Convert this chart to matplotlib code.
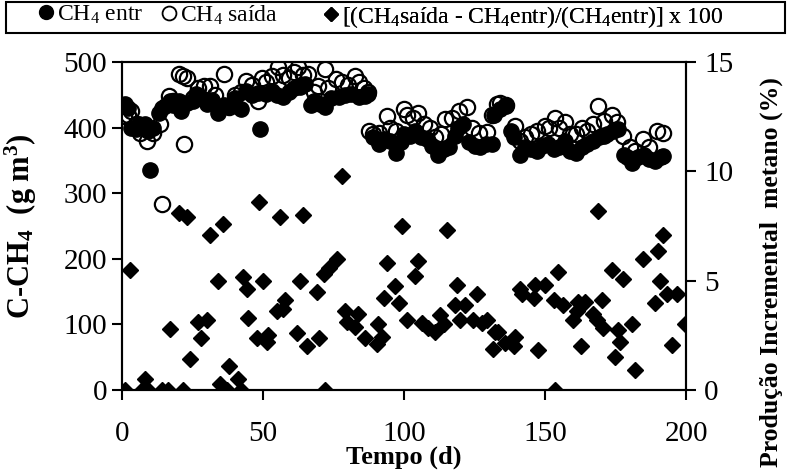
import matplotlib
matplotlib.use("Agg")
import matplotlib.pyplot as plt
from matplotlib.patches import Rectangle
from matplotlib.lines import Line2D

plt.rcParams['font.family'] = ['Liberation Serif', 'DejaVu Serif']
plt.rcParams['mathtext.fontset'] = 'custom'
plt.rcParams['mathtext.rm'] = 'Liberation Serif'
plt.rcParams['mathtext.it'] = 'Liberation Serif:italic'
plt.rcParams['mathtext.bf'] = 'Liberation Serif:bold'

# --- DATA ---
# CH4 entrada (filled circles)
t_entr = [1, 2, 3, 5, 6, 8, 9, 10, 11, 13, 14, 15, 17, 18, 20, 21, 23, 25, 26, 28,
          30, 32, 34, 36, 38, 40, 42, 44, 46, 48, 49, 51, 53, 55, 57, 59, 61, 63, 65, 67,
          68, 70, 72, 74, 77, 79, 81, 84, 86, 87,
          89, 91, 93, 95, 97, 99, 100, 102, 104, 106, 108, 110, 112, 114, 116, 118, 119, 121, 123, 125,
          127, 129, 131, 132, 134, 136, 138, 139, 141, 143, 145, 147, 149, 151, 153, 155, 157, 159, 161, 163,
          165, 167, 169, 171, 172, 174, 176, 178, 179, 181, 183, 185, 187, 189, 191, 192]
ch4_entr = [436, 430, 400, 398, 405, 405, 395, 335, 400, 423, 430, 433, 441, 435, 441, 426, 438, 440, 451, 445,
            436, 442, 423, 435, 433, 445, 428, 456, 450, 453, 398, 452, 456, 450, 446, 455, 461, 462, 466, 435,
            441, 436, 431, 445, 446, 450, 452, 446, 449, 452,
            385, 375, 383, 380, 362, 378, 390, 388, 395, 385, 382, 372, 359, 368, 370, 388, 400, 405, 378, 372,
            370, 375, 375, 420, 428, 433, 395, 385, 359, 370, 368, 365, 372, 375, 368, 370, 380, 365, 362, 370,
            375, 380, 385, 388, 390, 395, 398, 359, 355, 346, 355, 359, 352, 349, 355, 357]

# CH4 saida (open circles)
t_said = [0.5, 2, 3, 5, 6.4, 8.8, 11, 13.5, 14, 16.4, 18, 20, 21.7, 22, 23, 25, 27, 29, 31, 33,
          36, 38, 40, 42, 44, 46, 48, 49.5, 51, 53, 55.4, 57, 59, 61, 62.5, 64, 66, 68, 69.5, 72,
          73, 76, 78, 80, 82.6, 84, 85.6, 87,
          87.5, 89, 91, 93.9, 95, 97, 99.8, 101, 103, 105, 107, 109, 111, 113, 114.5, 117, 119.3, 122.2, 124, 126.4,
          129.3, 131, 132.9, 134, 136, 139.4, 141, 143, 145, 147, 150, 151.5, 153.5, 155, 157, 159, 161, 163, 165, 167,
          168.9, 171, 173.6, 175.4, 177.8, 180, 182, 184.9, 187, 189.6, 192]
ch4_said = [418, 420, 425, 405, 392, 379, 392, 405, 283, 448, 440, 482, 478, 375, 476, 445, 461, 464, 464, 450,
            482, 431, 450, 455, 471, 465, 441, 476, 470, 478, 492, 480, 475, 485, 492, 480, 482, 455, 464, 489,
            461, 474, 470, 465, 479, 470, 461, 455,
            395, 390, 392, 418, 400, 395, 428, 420, 415, 423, 405, 400, 385, 390, 413, 415, 426, 431, 400, 392,
            394, 420, 436, 438, 435, 403, 380, 385, 390, 395, 403, 400, 415, 400, 408, 390, 390, 400, 395, 405,
            433, 410, 420, 408, 387, 370, 365, 382, 370, 395, 392]

# incremental production (%) (diamonds, right axis)
t_inc = [1, 2.8, 7, 8.2, 9.3, 14, 16.3, 17, 20, 21.7, 23, 24, 27, 28, 30, 31, 34, 34.8, 35.8, 37.1,
         38, 41, 42, 43, 44.2, 44.7, 47.8, 48.6, 50, 51.3, 51.8, 54.8, 56, 57.1, 57.8, 62, 62.9, 64, 65.5, 69,
         69.9, 71.4, 72, 73.2, 76.1, 77.9, 79, 79.7, 82.6, 83.8, 86.2, 90.3, 90.9, 92.1, 93, 93.9, 96.8, 98, 99.2, 101,
         103.9, 105, 106.3, 108.6, 111, 112.8, 114, 115.1, 118.1, 118.7, 119.9, 121.6, 124.6, 125.8, 127.5, 129.3, 131.7, 132.3, 133.4, 135.8,
         138.8, 139.4, 141.1, 141.7, 145.9, 146.5, 147.6, 150, 153, 153.5, 154.7, 156.5, 160, 161.2, 161.8, 162.8, 164.2, 167.1, 168.3, 168.9,
         170.1, 170.7, 173.7, 174.8, 176, 176.6, 177.8, 180.7, 181.9, 184.9, 189, 190, 190.8, 192, 193.1, 194.9, 196.7, 199.6]
inc = [0, 5.5, 0, 0.5, 0, 0, 0, 2.8, 8.1, 0, 7.9, 1.4, 3.1, 2.4, 3.2, 7.1, 5.0, 0.3, 7.6, 0,
       1.1, 0.5, 0, 5.15, 4.6, 3.3, 2.4, 8.6, 5.0, 2.2, 2.5, 3.6, 7.9, 3.7, 4.1, 2.6, 5.0, 8.0, 2.0, 4.5,
       2.4, 5.3, 0, 5.6, 6.0, 9.8, 3.6, 3.1, 2.9, 3.5, 2.4, 2.1, 3.0, 2.45, 4.2, 5.8, 4.75, 4.0, 7.5, 3.2,
       5.2, 5.9, 3.06, 2.83, 2.67, 3.44, 3.0, 7.3, 3.9, 4.8, 3.2, 3.9, 3.2, 4.4, 3.06, 3.2, 1.87, 2.67, 2.67, 2.14,
       2.0, 2.45, 4.6, 4.4, 4.2, 4.8, 1.83, 4.8, 4.1, 0, 5.4, 3.9, 3.2, 3.6, 4.05, 2.0, 4.05, 3.5, 3.2, 8.2,
       4.1, 2.83, 5.5, 1.5, 2.75, 2.2, 5.1, 3.0, 0.9, 6.0, 4.0, 6.35, 5.0, 7.1, 4.4, 2.06, 4.4, 3.0]

fig = plt.figure(figsize=(7.94, 4.70), dpi=100)
ax = fig.add_axes([0.154, 0.170, 0.710, 0.698])
ax2 = ax.twinx()

ax.plot(t_entr, ch4_entr, 'o', color='black', ms=11, mec='black', zorder=3)
ax.plot(t_said, ch4_said, 'o', mfc='none', mec='black', mew=1.6, ms=11, zorder=4)
ax2.plot(t_inc, inc, 'D', color='black', ms=8.5, zorder=3)

ax.set_xlim(0, 200)
ax.set_ylim(0, 500)
ax2.set_ylim(0, 15)
ax.set_xticks([0, 50, 100, 150, 200])
ax.set_yticks([0, 100, 200, 300, 400, 500])
ax2.set_yticks([0, 5, 10, 15])

for a in (ax, ax2):
    for s in a.spines.values():
        s.set_linewidth(1.5)
    a.tick_params(direction='out', length=7, width=1.5, labelsize=21)
ax.tick_params(axis='x', pad=15)
ax.tick_params(axis='y', pad=4)
ax2.tick_params(axis='y', pad=6)

ax.set_xlabel('Tempo (d)', fontsize=19, fontweight='bold', labelpad=-1)
ax.set_ylabel(r'C-CH$_\mathbf{4}$  (g m$^\mathbf{3}$)', fontsize=22, fontweight='bold')
ax.yaxis.set_label_coords(-0.148, 0.50)
ax2.set_ylabel(u'Produ\u00e7\u00e3o Incremental  metano (%)', fontsize=18.5, fontweight='bold')
ax2.yaxis.set_label_coords(1.13, 0.36)

# legend in a full-width box above the plot, one entry at a time
fig.add_artist(Rectangle((0.007, 0.930), 0.982, 0.066, transform=fig.transFigure,
                         fill=False, edgecolor='black', linewidth=1.5))
handles = [Line2D([], [], ls='none', marker='o', color='black', ms=10),
           Line2D([], [], ls='none', marker='o', mfc='none', mec='black', mew=1.3, ms=10),
           Line2D([], [], ls='none', marker='D', color='black', ms=7.5)]
labels = [r'CH$_4$ entr', r'CH$_4$ saída', r'[(CH$_4$saída - CH$_4$entr)/(CH$_4$entr)] x 100']
x_pos = [0.049, 0.204, 0.408]
for h, lab, xp in zip(handles, labels, x_pos):
    fig.add_artist(plt.legend([h], [lab], loc='upper left', bbox_to_anchor=(xp, 0.992),
                              bbox_transform=fig.transFigure, frameon=False, fontsize=17,
                              handlelength=0.6, handletextpad=0.15, borderpad=0, borderaxespad=0))

fig.savefig('out.png', dpi=100)
